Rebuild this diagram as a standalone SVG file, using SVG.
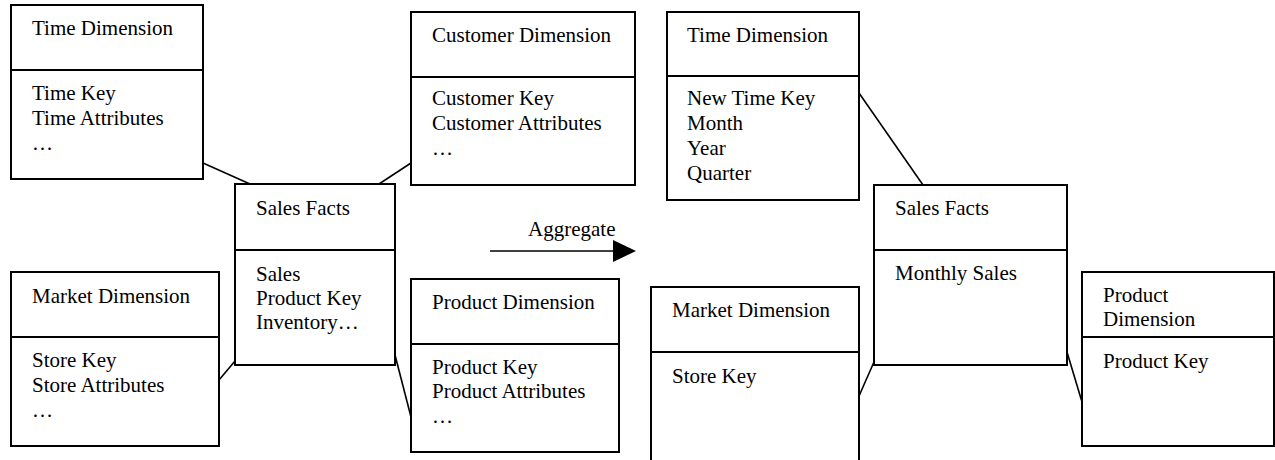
<svg xmlns="http://www.w3.org/2000/svg" width="1275" height="460" viewBox="0 0 1275 460">
  <defs>
    <style>
      .box { fill: #ffffff; stroke: #000000; stroke-width: 2; }
      .div { stroke: #000000; stroke-width: 2; }
      .link { stroke: #000000; stroke-width: 1.6; fill: none; }
      text { font-family: "Liberation Serif", "Times New Roman", serif; font-size: 21px; fill: #000000; }
    </style>
  </defs>
  <rect width="1275" height="460" fill="#ffffff"/>

  <!-- connectors -->
  <g id="connectors">
    <line class="link" x1="203" y1="163" x2="250" y2="184"/>
    <line class="link" x1="379" y1="184" x2="411" y2="163"/>
    <line class="link" x1="219" y1="380" x2="235" y2="361"/>
    <line class="link" x1="395" y1="355" x2="411" y2="417"/>
    <line class="link" x1="859" y1="93" x2="923" y2="185"/>
    <line class="link" x1="859" y1="396" x2="874" y2="362"/>
    <line class="link" x1="1067" y1="352" x2="1082" y2="402"/>
    <line class="link" x1="490" y1="251" x2="615" y2="251" stroke-width="2"/>
    <polygon points="613,240 636,251 613,262" fill="#000000"/>
    <text x="528" y="236">Aggregate</text>
  </g>

  <!-- left star schema -->
  <g id="time-dimension">
    <rect class="box" x="11" y="5" width="192" height="174"/>
    <line class="div" x1="11" y1="70" x2="203" y2="70"/>
    <text x="32" y="35">Time Dimension</text>
    <text x="32" y="100">Time Key</text>
    <text x="32" y="125">Time Attributes</text>
    <text x="32" y="150">…</text>
  </g>

  <g id="customer-dimension">
    <rect class="box" x="411" y="12" width="224" height="173"/>
    <line class="div" x1="411" y1="77" x2="635" y2="77"/>
    <text x="432" y="42">Customer Dimension</text>
    <text x="432" y="105">Customer Key</text>
    <text x="432" y="130">Customer Attributes</text>
    <text x="432" y="155">…</text>
  </g>

  <g id="sales-facts">
    <rect class="box" x="235" y="184" width="160" height="181"/>
    <line class="div" x1="235" y1="250" x2="395" y2="250"/>
    <text x="256" y="215">Sales Facts</text>
    <text x="256" y="281">Sales</text>
    <text x="256" y="305">Product Key</text>
    <text x="256" y="329">Inventory…</text>
  </g>

  <g id="market-dimension">
    <rect class="box" x="11" y="272" width="208" height="174"/>
    <line class="div" x1="11" y1="337" x2="219" y2="337"/>
    <text x="32" y="303">Market Dimension</text>
    <text x="32" y="367">Store Key</text>
    <text x="32" y="392">Store Attributes</text>
    <text x="32" y="417">…</text>
  </g>

  <g id="product-dimension">
    <rect class="box" x="411" y="279" width="208" height="173"/>
    <line class="div" x1="411" y1="344" x2="619" y2="344"/>
    <text x="432" y="309">Product Dimension</text>
    <text x="432" y="374">Product Key</text>
    <text x="432" y="398">Product Attributes</text>
    <text x="432" y="423">…</text>
  </g>

  <!-- aggregated star schema -->
  <g id="time-dimension-agg">
    <rect class="box" x="667" y="12" width="192" height="188"/>
    <line class="div" x1="667" y1="76" x2="859" y2="76"/>
    <text x="687" y="42">Time Dimension</text>
    <text x="687" y="105">New Time Key</text>
    <text x="687" y="130">Month</text>
    <text x="687" y="155">Year</text>
    <text x="687" y="180">Quarter</text>
  </g>

  <g id="sales-facts-agg">
    <rect class="box" x="874" y="185" width="193" height="180"/>
    <line class="div" x1="874" y1="250" x2="1067" y2="250"/>
    <text x="895" y="215">Sales Facts</text>
    <text x="895" y="280">Monthly Sales</text>
  </g>

  <g id="market-dimension-agg">
    <rect class="box" x="651" y="287" width="208" height="190"/>
    <line class="div" x1="651" y1="352" x2="859" y2="352"/>
    <text x="672" y="317">Market Dimension</text>
    <text x="672" y="383">Store Key</text>
  </g>

  <g id="product-dimension-agg">
    <rect class="box" x="1082" y="272" width="192" height="174"/>
    <line class="div" x1="1082" y1="337" x2="1274" y2="337"/>
    <text x="1103" y="302">Product</text>
    <text x="1103" y="326">Dimension</text>
    <text x="1103" y="368">Product Key</text>
  </g>
</svg>
